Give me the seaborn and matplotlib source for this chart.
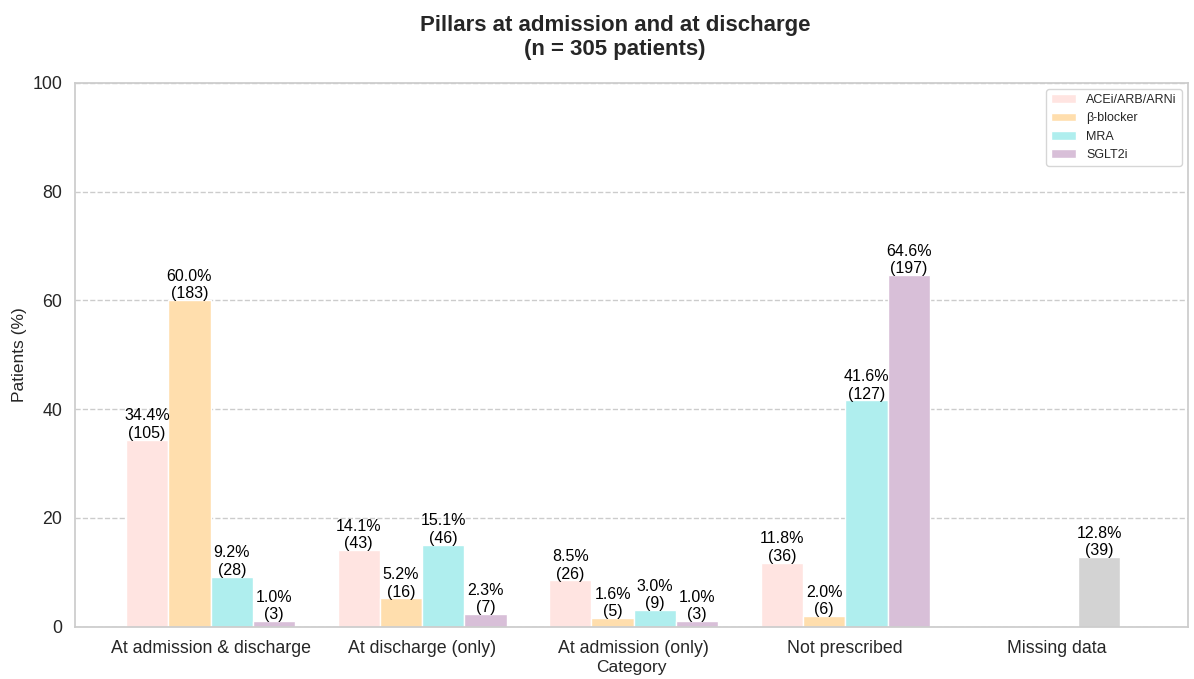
import matplotlib.pyplot as plt
import pandas as pd
import seaborn as sns

categories = ['At admission & discharge', 'At discharge (only)', 'At admission (only)',
              'Not prescribed', 'Missing data']
drugs = ['ACEi/ARB/ARNi', 'β-blocker', 'MRA', 'SGLT2i']
pct = {
    'ACEi/ARB/ARNi': [34.4, 14.1, 8.5, 11.8],
    'β-blocker': [60.0, 5.2, 1.6, 2.0],
    'MRA': [9.2, 15.1, 3.0, 41.6],
    'SGLT2i': [1.0, 2.3, 1.0, 64.6],
}
counts = {
    'ACEi/ARB/ARNi': [105, 43, 26, 36],
    'β-blocker': [183, 16, 5, 6],
    'MRA': [28, 46, 9, 127],
    'SGLT2i': [3, 7, 3, 197],
}
missing_pct = 12.8
missing_n = 39
colors = ['#FFE4E1', '#FFDEAD', '#AFEEEE', '#D8BFD8']

rows = []
for d in drugs:
    for c, p, n in zip(categories[:4], pct[d], counts[d]):
        rows.append({'category': c, 'drug': d, 'pct': p, 'n': n})
df = pd.DataFrame(rows)

sns.set_theme(style="whitegrid")
plt.rcParams['font.family'] = ['Liberation Sans', 'DejaVu Sans']

fig, ax = plt.subplots(figsize=(11.94, 6.79), dpi=100)
sns.barplot(data=df, x='category', y='pct', hue='drug', order=categories,
            hue_order=drugs, palette=colors, width=0.8, ax=ax, saturation=1)

for cont, d in zip(ax.containers, drugs):
    for bar, p, n in zip(cont, pct[d], counts[d]):
        ax.text(bar.get_x() + bar.get_width() / 2, bar.get_height() - 0.2,
                f'{p:.1f}%\n({n})', ha='center', va='bottom', fontsize=11.5,
                color='black')

# missing data bar sits in the third slot
mb = ax.bar(4 + 0.1, missing_pct, width=0.2, align='edge', color='lightgray')[0]
ax.text(mb.get_x() + mb.get_width() / 2, missing_pct - 0.2,
        f'{missing_pct:.1f}%\n({missing_n})', ha='center', va='bottom',
        fontsize=11.5, color='black')

ax.set_ylim(0, 100)
ax.set_xlim(-0.64, 4.62)
ax.set_yticks(range(0, 101, 20))
ax.grid(axis='x', visible=False)
ax.grid(axis='y', linestyle='--', color='#cccccc')
ax.tick_params(axis='both', labelsize=12.8)
ax.set_xlabel('Category', fontsize=12.5, labelpad=2)
ax.set_ylabel('Patients (%)', fontsize=12.5)
ax.set_title('Pillars at admission and at discharge\n(n = 305 patients)',
             fontsize=16, fontweight='bold', pad=20, x=0.485)
for s in ax.spines.values():
    s.set_color('#cccccc')
ax.legend(title=None, fontsize=9, loc='upper right')

plt.subplots_adjust(left=0.063, right=0.995, top=0.878, bottom=0.077)
plt.savefig('out.png', dpi=100)
